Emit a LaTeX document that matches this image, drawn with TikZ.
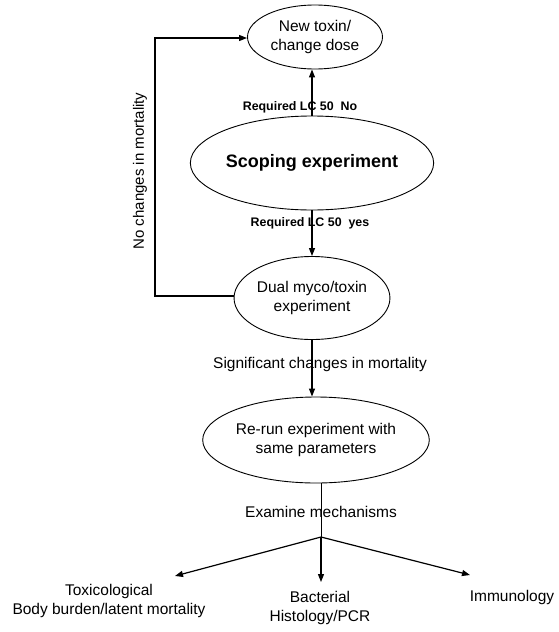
\documentclass[tikz,border=0pt]{standalone}
\usepackage{fontspec}
\setmainfont{Liberation Sans}
\usetikzlibrary{arrows.meta,shapes.geometric}
\begin{document}
\begin{tikzpicture}[x=1pt,y=-1pt,
  ell/.style={draw,ellipse,line width=0.9pt,inner sep=0pt,align=center,font=\fontsize{15.5}{19}\selectfont},
  lbl/.style={font=\fontsize{15.5}{19}\selectfont,align=center,inner sep=0pt},
  blbl/.style={font=\bfseries\fontsize{12.4}{15}\selectfont,inner sep=0pt},
  conn/.style={line width=1.2pt,-{Triangle[length=8pt,width=6pt]}},
  plain/.style={line width=1.2pt}]
\useasboundingbox (0,0) rectangle (559,632);
\node[ell,minimum width=135pt,minimum height=64pt] (tox) at (315,37) {New toxin/\\change dose};
\node[ell,minimum width=190pt,minimum height=94pt,font=\bfseries\fontsize{18}{22}\selectfont] (scope) at (312,163) {Scoping experiment};
\node[ell,minimum width=142pt,minimum height=83pt] (dual) at (312,298) {Dual myco/toxin\\experiment};
\node[ell,minimum width=182pt,minimum height=86pt] (rerun) at (316,440) {Re-run experiment with\\same parameters};
\draw[conn] (scope.north) -- (scope.north |- tox.south);
\node[blbl] (lno) at (300,107) {Required LC 50\ \ No};
\draw[conn] (scope.south) -- (dual.north);
\node[blbl] (lyes) at (310,223) {Required LC 50\ \ yes};
\coordinate (cb) at (155,296);
\coordinate (ct) at (155,38);
\draw[conn] (dual.west |- cb) -- (cb) -- (ct) -- (tox.west |- ct);
\node[lbl,rotate=90,font=\fontsize{15}{18}\selectfont] (lnc) at (140,171) {No changes in mortality};
\draw[conn] (dual.south) -- (rerun.north -| dual.south);
\node[lbl] (lsig) at (320,364) {Significant changes in mortality};
\coordinate (br) at (321,537);
\draw[line width=0.8pt] (rerun.south -| br) -- (br);
\node[lbl] (lex) at (321,512) {Examine mechanisms};
\node[lbl] (toxi) at (109,601) {Toxicological\\Body burden/latent mortality};
\node[lbl] (bact) at (320,608) {Bacterial\\Histology/PCR};
\node[lbl] (immu) at (512,597) {Immunology};
\coordinate (tl) at (175,576);
\coordinate (tm) at (321,582);
\coordinate (tr) at (470,575);
\draw[conn] (br) -- (tl);
\draw[conn] (br) -- (tm);
\draw[conn] (br) -- (tr);
\end{tikzpicture}
\end{document}
